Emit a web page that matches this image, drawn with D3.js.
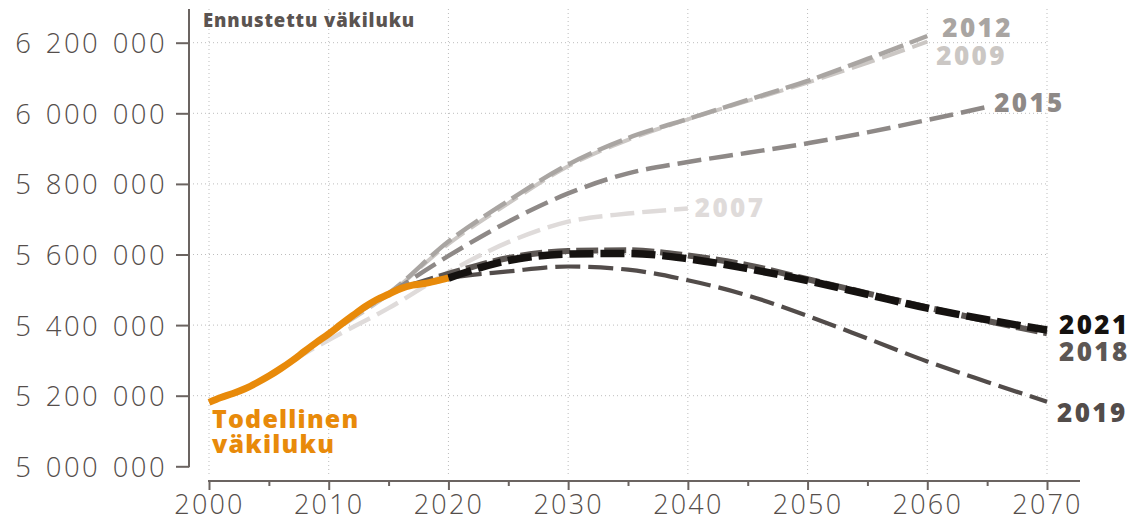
<!DOCTYPE html>
<html><head><meta charset="utf-8">
<script src="https://cdn.jsdelivr.net/npm/d3@7"></script>
<style>
html,body{margin:0;padding:0;background:#fff;}
svg{display:block;}
text{font-family:"Open Sans",sans-serif;}
</style></head>
<body>
<svg id="c" width="1138" height="523"></svg>
<script>
// ---- data ----
const actualYears = [2000,2001,2002,2003,2004,2005,2006,2007,2008,2009,2010,2011,2012,2013,2014,2015,2016,2017,2018,2019,2020];
const actualPop = [5181115,5194901,5206295,5219732,5236611,5255580,5276955,5300484,5326314,5351427,5375276,5401267,5426674,5451270,5471753,5487308,5503297,5513130,5517919,5525292,5533793];

const f2007Years = [2007,2010,2015,2020,2025,2030,2035,2040];
const f2007Pop = [5300000,5358000,5448000,5550000,5635000,5693000,5716000,5730000];

const f2009Years = [2009,2010,2015,2020,2025,2030,2035,2040,2045,2050,2055,2060];
const f2009Pop = [5351000,5374000,5487000,5630000,5745000,5850000,5925000,5983000,6035000,6087000,6143000,6203000];

const f2012Years = [2012,2015,2020,2025,2030,2035,2040,2045,2050,2055,2060];
const f2012Pop = [5427000,5490000,5637000,5752000,5855000,5930000,5984000,6038000,6092000,6154000,6219000];

const f2015Years = [2015,2020,2025,2030,2035,2040,2045,2050,2055,2060,2065];
const f2015Pop = [5487000,5596000,5693000,5773000,5830000,5862000,5888000,5915000,5946000,5981000,6018000];

const f2018Years = [2017,2020,2025,2030,2035,2040,2045,2050,2055,2060,2065,2070];
const f2018Pop = [5513000,5545000,5590000,5610000,5612000,5597000,5570000,5530000,5490000,5450000,5412000,5377000];

const f2019Years = [2018,2020,2025,2030,2035,2040,2045,2050,2055,2060,2065,2070];
const f2019Pop = [5518000,5533000,5552000,5566000,5557000,5527000,5484000,5426000,5362000,5297000,5239000,5183000];

const f2021Years = [2020,2025,2030,2035,2040,2045,2050,2055,2060,2065,2070];
const f2021Pop = [5533000,5583000,5601000,5603000,5588000,5560000,5526000,5487000,5448000,5415000,5386000];

const yTicks = [5000000,5200000,5400000,5600000,5800000,6000000,6200000];
const xTicks = [2000,2010,2020,2030,2040,2050,2060,2070];
const xMinorTicks = [2005,2015,2025,2035,2045,2055,2065];
const titleText = "Ennustettu väkiluku";
const actualLabel = ["Todellinen","väkiluku"];

// ---- chart ----
const svg = d3.select("#c");
const x = d3.scaleLinear().domain([2000,2070]).range([209,1047]);
const y = d3.scaleLinear().domain([5000000,6200000]).range([466.3,42.7]);
const fmt = d3.formatLocale({decimal:",",thousands:" ",grouping:[3],currency:["",""]}).format(",");

const axisCol = "#6b6461", labCol = "#554e4b", gridCol = "#bdbdbd";

// grid
const g = svg.append("g");
g.selectAll(".vg").data(xTicks).join("line")
  .attr("x1",d=>x(d)).attr("x2",d=>x(d)).attr("y1",9).attr("y2",477)
  .attr("stroke",gridCol).attr("stroke-width",1).attr("stroke-dasharray","1,3");
g.selectAll(".hg").data(yTicks.filter(d=>d>5000000)).join("line")
  .attr("x1",193).attr("x2",x(2070)).attr("y1",d=>y(d)).attr("y2",d=>y(d))
  .attr("stroke",gridCol).attr("stroke-width",1).attr("stroke-dasharray","1,3");

// y axis
const ya = svg.append("g").attr("transform","translate(189,0)")
  .call(d3.axisLeft(y).tickValues(yTicks).tickSize(13).tickSizeOuter(0).tickPadding(9).tickFormat(fmt));
ya.select(".domain").remove();
ya.selectAll(".tick line").attr("stroke",axisCol).attr("stroke-width",2);
ya.selectAll(".tick text").attr("fill",labCol).attr("font-size",27.5).attr("font-weight",300)
  .attr("font-family","'Open Sans',sans-serif").attr("dy","0.36em")
  .style("letter-spacing","2.4px").style("word-spacing","3px");
svg.append("line").attr("x1",189).attr("x2",189).attr("y1",9).attr("y2",467.3)
  .attr("stroke",axisCol).attr("stroke-width",2);

// x axis
const xa = svg.append("g").attr("transform","translate(0,481)")
  .call(d3.axisBottom(x).tickValues(xTicks).tickSize(9).tickSizeOuter(0).tickPadding(5).tickFormat(d3.format("d")));
xa.select(".domain").remove();
xa.selectAll(".tick line").attr("stroke",axisCol).attr("stroke-width",2);
xa.selectAll(".tick text").attr("fill",labCol).attr("font-size",27).attr("font-weight",300)
  .attr("font-family","'Open Sans',sans-serif").style("letter-spacing","2.2px");
const xm = svg.append("g").attr("transform","translate(0,481)")
  .call(d3.axisBottom(x).tickValues(xMinorTicks).tickSize(5).tickSizeOuter(0).tickFormat(""));
xm.select(".domain").remove();
xm.selectAll(".tick line").attr("stroke",axisCol).attr("stroke-width",2);
svg.append("line").attr("x1",x(2000)-1).attr("x2",1080).attr("y1",481).attr("y2",481)
  .attr("stroke",axisCol).attr("stroke-width",2);

// title
svg.append("text").attr("x",203).attr("y",27).text(titleText)
  .attr("fill","#5b5451").attr("font-size",18.5).attr("font-weight",800).style("letter-spacing","0.9px");

// lines
const line = d3.line().x(d=>x(d[0])).y(d=>y(d[1])).curve(d3.curveMonotoneX);
const zip = (a,b)=>a.map((v,i)=>[v,b[i]]);

const series = [
  {name:"2007", years:f2007Years, pop:f2007Pop, color:"#dfdbda", w:4.5, dash:"24,8", dx:7, dy:8},
  {name:"2009", years:f2009Years, pop:f2009Pop, color:"#cbc7c4", w:4, dash:"24,8", dx:9, dy:23},
  {name:"2012", years:f2012Years, pop:f2012Pop, color:"#a9a5a2", w:4.5, dash:"26,7", dx:15, dy:1},
  {name:"2015", years:f2015Years, pop:f2015Pop, color:"#8e8987", w:4.5, dash:"24,8", dx:7, dy:5},
  {name:"2019", years:f2019Years, pop:f2019Pop, color:"#524c4a", w:4.2, dash:"25,8", dx:10, dy:20},
  {name:"2018", years:f2018Years, pop:f2018Pop, color:"#5d5754", w:6, dash:"22,6", dx:12, dy:28},
  {name:"2021", years:f2021Years, pop:f2021Pop, color:"#151210", w:7.5, dash:"24,7", dx:12, dy:4}
];

svg.append("g").selectAll("path").data(series).join("path")
  .attr("d",s=>line(zip(s.years,s.pop)))
  .attr("fill","none").attr("stroke",s=>s.color).attr("stroke-width",s=>s.w)
  .attr("stroke-dasharray",s=>s.dash);

svg.append("path").attr("d",line(zip(actualYears,actualPop)))
  .attr("fill","none").attr("stroke","#e88a0a").attr("stroke-width",7).attr("stroke-linecap","butt");

// end labels
svg.append("g").selectAll("text").data(series).join("text")
  .attr("x",s=>x(s.years[s.years.length-1])+s.dx)
  .attr("y",s=>y(s.pop[s.pop.length-1])+s.dy)
  .text(s=>s.name).attr("fill",s=>s.color)
  .attr("font-size",26).attr("font-weight",800).style("letter-spacing","2.4px");

const al = svg.append("text").attr("x",212).attr("y",428).attr("fill","#e88a0a")
  .attr("font-size",25).attr("font-weight",800).style("letter-spacing","1.2px");
al.selectAll("tspan").data(actualLabel).join("tspan")
  .attr("x",212).attr("dy",(d,i)=>i===0?0:25).text(d=>d);
</script>
</body></html>
